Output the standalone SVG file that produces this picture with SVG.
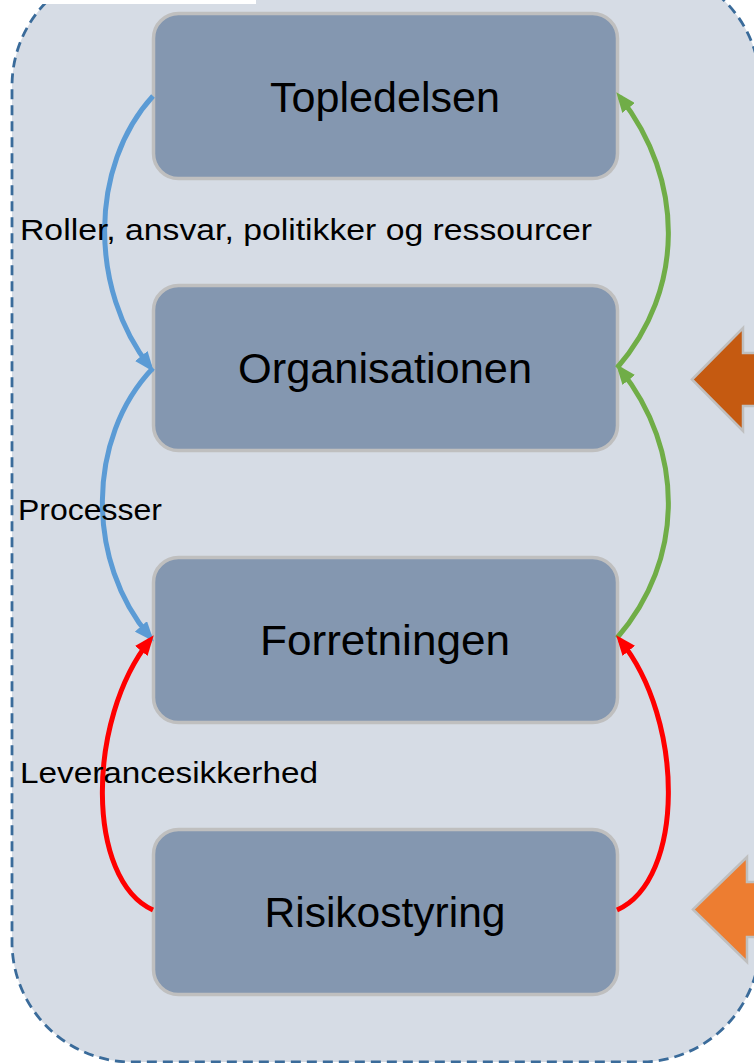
<svg xmlns="http://www.w3.org/2000/svg" width="754" height="1063" viewBox="0 0 754 1063">
  <defs>
    <style>
      .node rect { fill: #8497b0; stroke: #bfbfbf; stroke-width: 3.5; }
      .node text { font-family: "Liberation Sans", Arial, sans-serif; font-size: 42px; fill: #000; text-anchor: middle; }
      .lbl { font-family: "Liberation Sans", Arial, sans-serif; font-size: 29px; fill: #000; }
      .conn { fill: none; stroke-width: 5; }
      .blue { stroke: #5b9bd5; }
      .green { stroke: #70ad47; }
      .red { stroke: #ff0000; }
      .block { stroke: #bfbfbf; stroke-width: 2.5; stroke-linejoin: miter; }
    </style>
    <marker id="ahBlue" viewBox="0 0 20 16" refX="14" refY="8" markerWidth="20" markerHeight="16" markerUnits="userSpaceOnUse" orient="auto">
      <path d="M0,0 L20,8 L0,16 z" fill="#5b9bd5"/>
    </marker>
    <marker id="ahGreen" viewBox="0 0 20 16" refX="14" refY="8" markerWidth="20" markerHeight="16" markerUnits="userSpaceOnUse" orient="auto">
      <path d="M0,0 L20,8 L0,16 z" fill="#70ad47"/>
    </marker>
    <marker id="ahRed" viewBox="0 0 20 16" refX="14" refY="8" markerWidth="20" markerHeight="16" markerUnits="userSpaceOnUse" orient="auto">
      <path d="M0,0 L20,8 L0,16 z" fill="#ff0000"/>
    </marker>
  </defs>

  <g id="container">
    <rect x="12" y="-34" width="748" height="1096" rx="120" ry="120" fill="#d6dce5" stroke="#3a6b9a" stroke-width="2.8" stroke-dasharray="10 6"/>
    <rect x="0" y="0" width="256" height="4" fill="#ffffff"/>
  </g>

  <g id="node-topledelsen" class="node">
    <rect x="153.5" y="13.5" width="464" height="165" rx="25" ry="25"/>
    <text x="385" y="112" textLength="230" lengthAdjust="spacingAndGlyphs">Topledelsen</text>
  </g>
  <g id="node-organisationen" class="node">
    <rect x="153.5" y="285.5" width="464" height="165" rx="25" ry="25"/>
    <text x="385" y="383" textLength="294" lengthAdjust="spacingAndGlyphs">Organisationen</text>
  </g>
  <g id="node-forretningen" class="node">
    <rect x="153.5" y="557.5" width="464" height="165" rx="25" ry="25"/>
    <text x="385" y="655" textLength="250" lengthAdjust="spacingAndGlyphs">Forretningen</text>
  </g>
  <g id="node-risikostyring" class="node">
    <rect x="153.5" y="829.5" width="464" height="165" rx="25" ry="25"/>
    <text x="385" y="927" textLength="241" lengthAdjust="spacingAndGlyphs">Risikostyring</text>
  </g>

  <g id="connectors">
    <path class="conn blue" d="M153,96 C89,166 89,290 150,367" marker-end="url(#ahBlue)"/>
    <path class="conn blue" d="M153,368 C86,438 86,562 150,637" marker-end="url(#ahBlue)"/>
    <path class="conn green" d="M617,368 C685,290 685,180 620,97" marker-end="url(#ahGreen)"/>
    <path class="conn green" d="M617,638 C685,560 685,450 620,369" marker-end="url(#ahGreen)"/>
    <path class="conn red" d="M153,910 C86,880 86,720 150,640" marker-end="url(#ahRed)"/>
    <path class="conn red" d="M617,910 C685,880 685,720 620,640" marker-end="url(#ahRed)"/>
  </g>

  <g id="labels">
    <text class="lbl" x="20" y="240" textLength="572" lengthAdjust="spacingAndGlyphs">Roller, ansvar, politikker og ressourcer</text>
    <text class="lbl" x="18" y="520" textLength="144" lengthAdjust="spacingAndGlyphs">Processer</text>
    <text class="lbl" x="20" y="783" textLength="298" lengthAdjust="spacingAndGlyphs">Leverancesikkerhed</text>
  </g>

  <g id="arrow-brown">
    <polygon class="block" fill="#c55a11" points="692,379.5 743,328 743,353 790,353 790,406 743,406 743,431"/>
  </g>
  <g id="arrow-orange">
    <polygon class="block" fill="#ed7d31" points="693,909.5 747,857 747,882 790,882 790,937 747,937 747,962"/>
  </g>
</svg>
